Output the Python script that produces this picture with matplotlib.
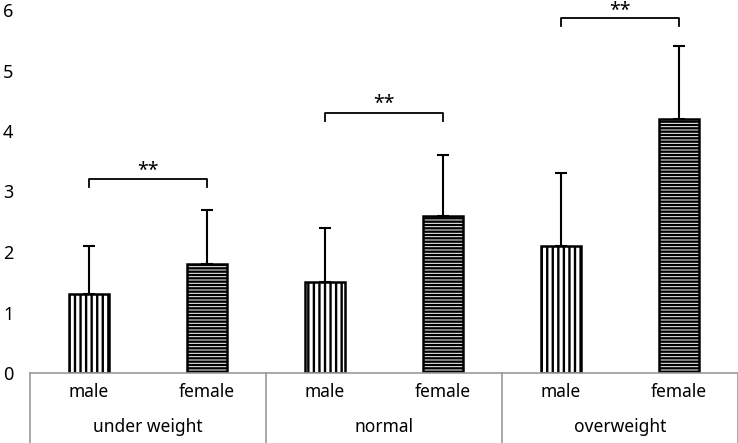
import numpy as np
import matplotlib.pyplot as plt

plt.rcParams['font.family'] = ['Noto Sans', 'DejaVu Sans']
plt.rcParams['hatch.linewidth'] = 1.7

# data
groups = ["under weight", "normal", "overweight"]
sexes = ["male", "female"]
means = [1.3, 1.8, 1.5, 2.6, 2.1, 4.2]
errors = [0.8, 0.9, 0.9, 1.0, 1.2, 1.2]
bracket_y = [3.2, 4.3, 5.87]
bracket_text = ["**", "**", "**"]

fig = plt.figure(figsize=(7.38, 4.43), dpi=100)
ax = fig.add_axes([30/738, 70/443, 708/738, 363/443])

x = np.arange(len(means))
hatches = ['|||', '-----'] * 3
for i in x:
    ax.bar(i, means[i], width=0.34, facecolor='white', edgecolor='black',
           linewidth=1.8, hatch=hatches[i], zorder=2)
ax.errorbar(x, means, yerr=[np.zeros(len(errors)), errors], fmt='none',
            ecolor='black', elinewidth=1.5, capsize=4, capthick=1.5, zorder=3)

# significance brackets
for g in range(3):
    x0, x1 = 2 * g, 2 * g + 1
    y = bracket_y[g]
    ax.plot([x0, x0, x1, x1], [y - 0.13, y, y, y - 0.13], color='black', lw=1.3,
            clip_on=False)
    off = 0.06 if g < 2 else 0.03
    ax.text((x0 + x1) / 2, y + off, bracket_text[g], ha='center', va='baseline',
            fontsize=14, fontweight='bold')

ax.set_xlim(-0.5, 5.5)
ax.set_ylim(0, 6)
ax.set_yticks(range(7))
ax.tick_params(axis='y', length=0, labelsize=13, pad=12)
ax.set_xticks([])
for s in ['top', 'right', 'left']:
    ax.spines[s].set_visible(False)
ax.spines['bottom'].set_color('#999999')
ax.spines['bottom'].set_linewidth(1.2)

# two-level category labels
trans = ax.get_xaxis_transform()
for i in x:
    ax.text(i, -0.052, sexes[i % 2], transform=trans, ha='center', va='center',
            fontsize=12.5)
for g in range(3):
    ax.text(2 * g + 0.5, -0.15, groups[g], transform=trans, ha='center',
            va='center', fontsize=12.5)
for b in [-0.5, 1.5, 3.5, 5.5]:
    ax.plot([b, b], [0, -0.2], transform=trans, color='#999999', lw=1.2,
            clip_on=False)

fig.savefig("out.png", dpi=100)
